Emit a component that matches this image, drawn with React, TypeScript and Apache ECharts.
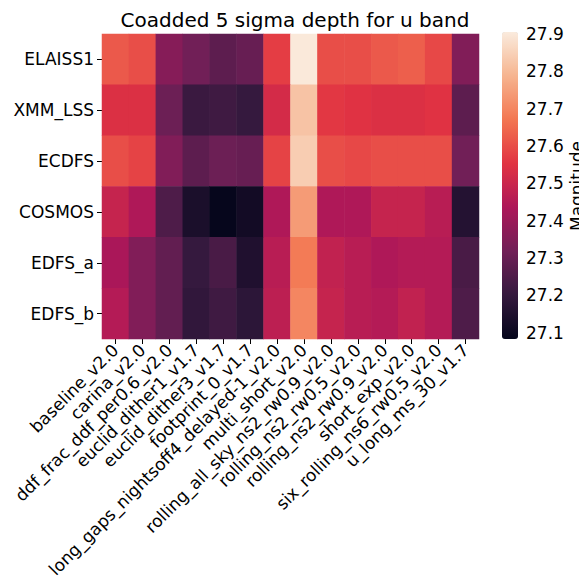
import React, { useEffect, useRef } from "react";
import * as echarts from "echarts";

const runs = [
  "baseline_v2.0",
  "carina_v2.0",
  "ddf_frac_ddf_per0.6_v2.0",
  "euclid_dither1_v1.7",
  "euclid_dither3_v1.7",
  "footprint_0_v1.7",
  "long_gaps_nightsoff4_delayed-1_v2.0",
  "multi_short_v2.0",
  "rolling_all_sky_ns2_rw0.9_v2.0",
  "rolling_ns2_rw0.5_v2.0",
  "rolling_ns2_rw0.9_v2.0",
  "short_exp_v2.0",
  "six_rolling_ns6_rw0.5_v2.0",
  "u_long_ms_30_v1.7",
];

const fields = ["ELAISS1", "XMM_LSS", "ECDFS", "COSMOS", "EDFS_a", "EDFS_b"];

const elaiss1 = [27.62, 27.6, 27.36, 27.32, 27.28, 27.3, 27.57, 27.9, 27.6, 27.6, 27.62, 27.63, 27.59, 27.35];
const xmmLss = [27.54, 27.54, 27.31, 27.21, 27.22, 27.2, 27.52, 27.82, 27.56, 27.55, 27.54, 27.54, 27.55, 27.28];
const ecdfs = [27.6, 27.58, 27.35, 27.28, 27.31, 27.3, 27.58, 27.84, 27.6, 27.59, 27.6, 27.6, 27.6, 27.32];
const cosmos = [27.49, 27.44, 27.25, 27.14, 27.09, 27.12, 27.44, 27.74, 27.44, 27.44, 27.49, 27.49, 27.46, 27.16];
const edfsA = [27.43, 27.35, 27.29, 27.2, 27.24, 27.15, 27.46, 27.68, 27.48, 27.46, 27.44, 27.45, 27.45, 27.24];
const edfsB = [27.45, 27.35, 27.29, 27.19, 27.22, 27.18, 27.47, 27.7, 27.49, 27.46, 27.45, 27.48, 27.45, 27.25];

const rows = [elaiss1, xmmLss, ecdfs, cosmos, edfsA, edfsB];

const colorTicks = [27.1, 27.9];
const vMin = 27.083;
const vMax = 27.905;

const rocket = ["#03051a", "#35193e", "#701f57", "#ad1759", "#e13342", "#f37651", "#f6b48f", "#faebdd"];

const FONT = "DejaVu Sans";

export default function App() {
  const ref = useRef<HTMLDivElement>(null);
  useEffect(() => {
    if (!ref.current) return;
    const chart = echarts.init(ref.current, null, { renderer: "svg" });
    const data: number[][] = [];
    rows.forEach((r, yi) => r.forEach((v, xi) => data.push([xi, yi, v])));
    chart.setOption({
      animation: false,
      backgroundColor: "#ffffff",
      title: {
        text: "Coadded 5 sigma depth for u band",
        left: 290,
        top: 5,
        textAlign: "center",
        textStyle: { fontFamily: FONT, fontSize: 20, fontWeight: "normal", color: "#000" },
      },
      graphic: [
        {
          type: "text",
          x: 577,
          y: 186,
          rotation: Math.PI / 2,
          style: {
            text: "Magnitude",
            fontFamily: FONT,
            fontSize: 17,
            fill: "#000",
            align: "center",
            verticalAlign: "middle",
          },
        },
      ],
      grid: [
        { left: 102, top: 34, width: 377, height: 305, outerBoundsMode: "none", containLabel: false },
        { left: 502, top: 34, width: 16, height: 298.7, outerBoundsMode: "none", containLabel: false },
      ],
      xAxis: [
        {
          type: "category",
          data: runs,
          gridIndex: 0,
          axisLine: { show: false },
          axisTick: { show: true, alignWithLabel: true, length: 5, lineStyle: { color: "#000" } },
          axisLabel: {
            interval: 0,
            rotate: 45,
            fontSize: 17,
            fontFamily: FONT,
            color: "#000",
            margin: 8,
            padding: [4, 0, 0, 0],
          },
          splitLine: { show: false },
        },
        { type: "value", gridIndex: 1, show: false },
      ],
      yAxis: [
        {
          type: "category",
          data: fields,
          inverse: true,
          gridIndex: 0,
          axisLine: { show: false },
          axisTick: { show: true, alignWithLabel: true, length: 5, lineStyle: { color: "#000" } },
          axisLabel: { fontSize: 17, fontFamily: FONT, color: "#000", margin: 8 },
          splitLine: { show: false },
        },
        {
          type: "value",
          gridIndex: 1,
          position: "right",
          min: colorTicks[0],
          max: colorTicks[1],
          interval: 0.1,
          axisLine: { show: false },
          axisTick: { show: true, length: 5, inside: false, lineStyle: { color: "#000" } },
          axisLabel: {
            fontSize: 17,
            fontFamily: FONT,
            color: "#000",
            margin: 8,
            formatter: (v: number) => v.toFixed(1),
          },
          splitLine: { show: false },
        },
      ],
      visualMap: {
        type: "continuous",
        min: vMin,
        max: vMax,
        seriesIndex: 0,
        calculable: false,
        left: 502,
        top: 32,
        itemWidth: 16,
        itemHeight: 307,
        padding: 0,
        text: ["", ""],
        showLabel: false,
        inRange: { color: rocket },
      },
      series: [
        {
          type: "heatmap",
          xAxisIndex: 0,
          yAxisIndex: 0,
          data,
          itemStyle: { borderWidth: 0 },
          emphasis: { disabled: true },
        },
        { type: "line", xAxisIndex: 1, yAxisIndex: 1, data: [], silent: true },
      ],
    });
    return () => chart.dispose();
  }, []);
  return <div ref={ref} style={{ width: 587, height: 584, margin: -8 }} />;
}
